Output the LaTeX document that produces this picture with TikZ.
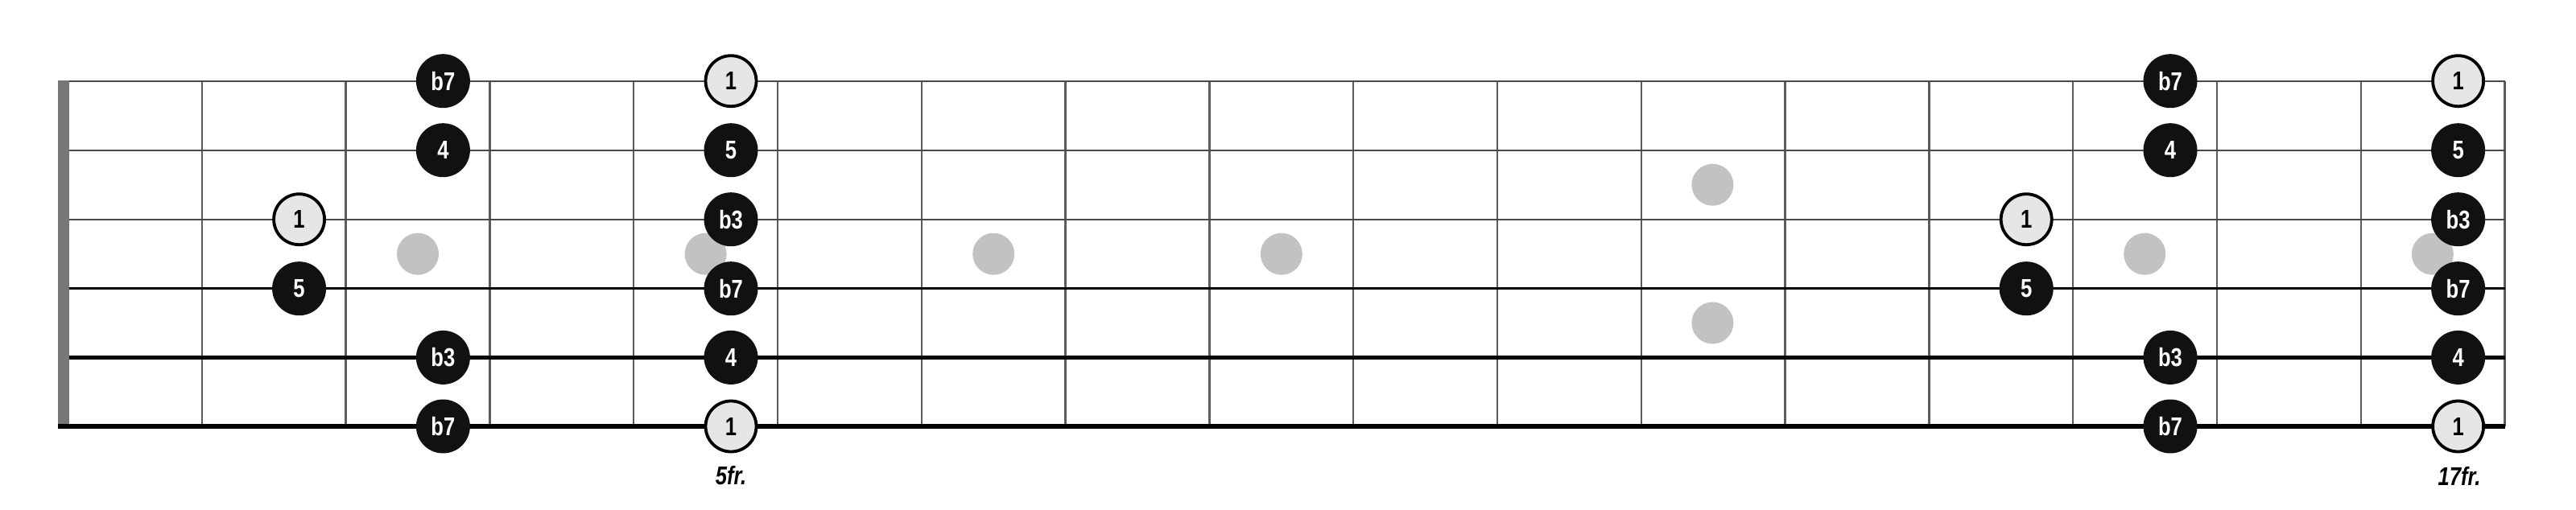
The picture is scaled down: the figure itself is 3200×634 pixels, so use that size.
\documentclass[tikz,border=0pt]{standalone}
\usepackage{fontspec}
\newfontfamily\notefont[FakeStretch=0.8]{Liberation Sans}
\definecolor{fretc}{HTML}{5C5C5C}
\definecolor{thinstr}{HTML}{4A4A4A}
\definecolor{nutc}{HTML}{777777}
\definecolor{dotc}{HTML}{C2C2C2}
\definecolor{rootfill}{HTML}{E6E6E6}
\definecolor{notefill}{HTML}{111111}
\tikzset{
  fretline/.style={draw=fretc, line width=2.5},
  strthin/.style={draw=thinstr, line width=2.3},
  strmid/.style={draw=black, line width=3.2},
  strthick/.style={draw=black, line width=5},
  strbass/.style={draw=black, line width=6.5},
  inlay/.style={fill=dotc},
  note/.style={circle, inner sep=0pt, minimum size=67pt, fill=notefill, text=white,
    font=\notefont\bfseries\fontsize{32}{32}\selectfont},
  root/.style={circle, inner sep=0pt, minimum size=63pt, fill=rootfill, draw=black, line width=3.8pt, text=black,
    font=\notefont\bfseries\fontsize{32}{32}\selectfont},
  frlabel/.style={inner sep=0pt, font=\notefont\bfseries\itshape\fontsize{32}{32}\selectfont}
}
\begin{document}
\begin{tikzpicture}[x=1pt,y=-1pt]
\useasboundingbox (0,0) rectangle (3200,634);
% frets
\foreach \k in {1,...,17} {
  \draw[fretline] ({72+178.8*\k},100.7) -- ({72+178.8*\k},530);
}
% strings
\draw[strthin] (72,100.7) -- (3112,100.7);
\draw[strthin] (72,186.7) -- (3112,186.7);
\draw[strthin] (72,272.7) -- (3112,272.7);
\draw[strmid] (72,358.7) -- (3112,358.7);
\draw[strthick] (72,444.4) -- (3112,444.4);
\draw[strbass] (72,530) -- (3112,530);
% nut
\fill[nutc] (72,99.5) rectangle (86,527);
% inlays
\fill[inlay] (519.0,315.7) circle (26);
\fill[inlay] (876.6,315.7) circle (26);
\fill[inlay] (1234.2,315.7) circle (26);
\fill[inlay] (1591.8,315.7) circle (26);
\fill[inlay] (2127.4,229.7) circle (26);
\fill[inlay] (2127.4,401.5) circle (26);
\fill[inlay] (2664.2,315.7) circle (26);
\fill[inlay] (3021.8,315.7) circle (26);
% position 1 (frets 2-5)
\node[root] (a23) at (371.6,272.7) {1};
\node[note] (a24) at (371.6,358.7) {5};
\node[note] (a31) at (550.4,100.7) {b7};
\node[note] (a32) at (550.4,186.7) {4};
\node[note] (a35) at (550.4,444.4) {b3};
\node[note] (a36) at (550.4,530) {b7};
\node[root] (a51) at (908.0,100.7) {1};
\node[note] (a52) at (908.0,186.7) {5};
\node[note] (a53) at (908.0,272.7) {b3};
\node[note] (a54) at (908.0,358.7) {b7};
\node[note] (a55) at (908.0,444.4) {4};
\node[root] (a56) at (908.0,530) {1};
% position 2 (frets 14-17)
\node[root] (b23) at (2517.2,272.7) {1};
\node[note] (b24) at (2517.2,358.7) {5};
\node[note] (b31) at (2696.0,100.7) {b7};
\node[note] (b32) at (2696.0,186.7) {4};
\node[note] (b35) at (2696.0,444.4) {b3};
\node[note] (b36) at (2696.0,530) {b7};
\node[root] (b51) at (3053.6,100.7) {1};
\node[note] (b52) at (3053.6,186.7) {5};
\node[note] (b53) at (3053.6,272.7) {b3};
\node[note] (b54) at (3053.6,358.7) {b7};
\node[note] (b55) at (3053.6,444.4) {4};
\node[root] (b56) at (3053.6,530) {1};
% fret labels
\node[frlabel] (l5) at (908.0,591) {5fr.};
\node[frlabel] (l17) at (3055,592) {17fr.};
\end{tikzpicture}
\end{document}
